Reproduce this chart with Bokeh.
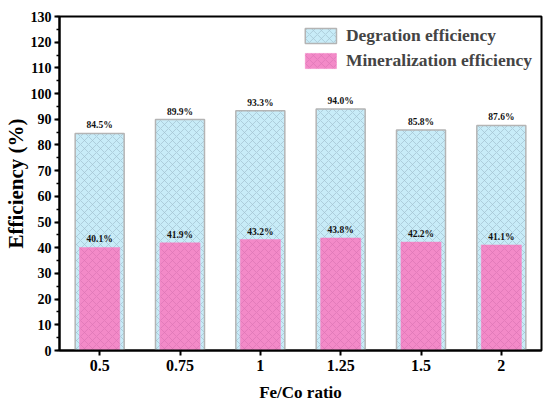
from bokeh.plotting import figure
from bokeh.models import FactorRange, Range1d, SingleIntervalTicker, ColumnDataSource, Legend, LegendItem
from bokeh.core.properties import value
from bokeh.embed import file_html
from bokeh.resources import INLINE

ratios = ["0.5", "0.75", "1", "1.25", "1.5", "2"]
degradation = [84.5, 89.9, 93.3, 94.0, 85.8, 87.6]
mineralization = [40.1, 41.9, 43.2, 43.8, 42.2, 41.1]
series_names = ["Degration efficiency", "Mineralization efficiency"]

FONT = "Liberation Serif"

src = ColumnDataSource(dict(
    x=ratios,
    deg=degradation,
    mine=mineralization,
    deg_lbl=[f"{v:.1f}%" for v in degradation],
    mine_lbl=[f"{v:.1f}%" for v in mineralization],
))

p = figure(x_range=FactorRange(*ratios), y_range=Range1d(0, 130),
           width=550, height=404,
           min_border_left=59, min_border_top=16, min_border_right=9, min_border_bottom=53,
           output_backend="svg", toolbar_location=None)

p.xgrid.visible = False
p.ygrid.visible = False
p.outline_line_color = "black"
p.outline_line_width = 2
p.background_fill_color = "white"

r1 = p.vbar(x="x", top="deg", width=0.61, source=src,
            fill_color="#c8ecf8", line_color="#b4b4b4", line_width=1.5,
            hatch_pattern="diagonal_cross", hatch_color="#a2c2d0", hatch_scale=8, hatch_weight=0.7)
r2 = p.vbar(x="x", top="mine", width=0.5, source=src,
            fill_color="#f38ac8", line_color="#f38ac8", line_width=0.5,
            hatch_pattern="diagonal_cross", hatch_color="#dc76b4", hatch_scale=8, hatch_weight=0.7)

p.text(x="x", y="deg", text="deg_lbl", source=src, text_align="center", text_baseline="bottom",
       y_offset=-3, text_font=value(FONT), text_font_style="bold", text_font_size="9.5px", text_color="#111111")
p.text(x="x", y="mine", text="mine_lbl", source=src, text_align="center", text_baseline="bottom",
       y_offset=-3, text_font=value(FONT), text_font_style="bold", text_font_size="9.5px", text_color="#111111")

legend = Legend(items=[LegendItem(label=series_names[0], renderers=[r1]),
                       LegendItem(label=series_names[1], renderers=[r2])],
                location="top_right", border_line_color=None, background_fill_alpha=0,
                glyph_width=39, glyph_height=19, label_standoff=6, spacing=4, padding=0, margin=9,
                label_text_font=FONT, label_text_font_style="bold", label_text_font_size="17.5px",
                label_height=19)
p.add_layout(legend, "center")

ya = p.yaxis[0]
ya.ticker = SingleIntervalTicker(interval=10, num_minor_ticks=2)
ya.axis_label = "Efficiency (%)"
xa = p.xaxis[0]
xa.axis_label = "Fe/Co ratio"
for ax in (xa, ya):
    ax.axis_line_width = 2
    ax.axis_line_color = "black"
    ax.major_tick_line_width = 2
    ax.major_tick_out = 5
    ax.major_tick_in = 0
    ax.minor_tick_line_width = 1.5
    ax.minor_tick_out = 3
    ax.minor_tick_in = 0
    ax.major_label_text_font = FONT
    ax.major_label_text_font_style = "bold"
    ax.major_label_text_color = "black"
    ax.axis_label_text_font = FONT
    ax.axis_label_text_font_style = "bold"
    ax.axis_label_text_color = "black"
ya.major_label_text_font_size = "14px"
xa.major_label_text_font_size = "16px"
ya.axis_label_text_font_size = "21px"
xa.axis_label_text_font_size = "17px"
ya.major_label_standoff = 3
ya.axis_label_standoff = 0
xa.major_label_standoff = 4
xa.axis_label_standoff = 9

open("out.html", "w").write(file_html(p, INLINE))
